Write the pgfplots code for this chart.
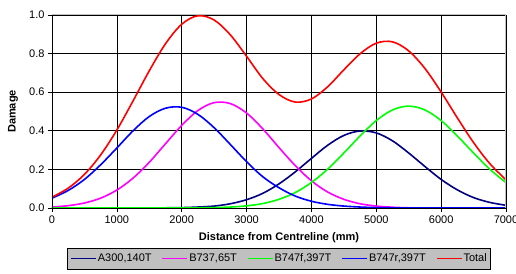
\documentclass[border=0pt]{standalone}
\usepackage{fontspec}
\setmainfont{Liberation Sans}
\usepackage{pgfplots}
\usepackage{pgfplotstable}
\pgfplotsset{compat=1.18}
\definecolor{cNavy}{RGB}{0,0,128}
\definecolor{cMag}{RGB}{255,0,255}
\definecolor{cGreen}{RGB}{0,255,0}
\definecolor{cBlue}{RGB}{0,0,255}
\definecolor{cRed}{RGB}{255,0,0}
\definecolor{cSilver}{RGB}{192,192,192}

\pgfplotstableread{
x    A300  B737  B747f B747r Total
0    0.000 0.005 0.000 0.051 0.056
250  0.000 0.012 0.000 0.091 0.103
500  0.000 0.026 0.000 0.148 0.174
750  0.000 0.051 0.000 0.224 0.275
1000 0.000 0.093 0.000 0.311 0.404
1250 0.000 0.155 0.000 0.400 0.555
1500 0.000 0.237 0.000 0.474 0.711
1750 0.001 0.333 0.000 0.517 0.851
2000 0.002 0.428 0.000 0.522 0.952
2250 0.005 0.505 0.001 0.485 0.996
2500 0.010 0.546 0.002 0.416 0.974
2750 0.022 0.541 0.005 0.329 0.897
3000 0.043 0.492 0.011 0.240 0.786
3250 0.076 0.410 0.023 0.162 0.671
3500 0.125 0.313 0.045 0.105 0.588
3750 0.187 0.220 0.080 0.062 0.549
4000 0.257 0.141 0.132 0.035 0.565
4250 0.325 0.083 0.201 0.019 0.628
4500 0.376 0.045 0.285 0.010 0.716
4750 0.399 0.022 0.373 0.005 0.799
5000 0.389 0.010 0.453 0.002 0.854
5250 0.348 0.004 0.508 0.001 0.861
5500 0.285 0.001 0.528 0.000 0.814
5750 0.215 0.000 0.508 0.000 0.723
6000 0.148 0.000 0.453 0.000 0.601
6250 0.094 0.000 0.373 0.000 0.467
6500 0.054 0.000 0.285 0.000 0.339
6750 0.029 0.000 0.201 0.000 0.230
7000 0.014 0.000 0.132 0.000 0.146
}\data

\begin{document}
\begin{tikzpicture}[font=\fontsize{11}{13}\selectfont]
\useasboundingbox (-52pt,-65pt) rectangle (464pt,208pt);
\begin{axis}[
  at={(0pt,0pt)}, anchor=south west,
  width=454pt, height=193pt, scale only axis,
  xmin=0, xmax=7000, ymin=0, ymax=1,
  xtick={0,1000,...,7000},
  ytick={0,0.2,0.4,0.6,0.8,1.0},
  xtick pos=bottom, ytick pos=left,
  tick align=outside, major tick length=4pt,
  tick style={black, line width=0.6pt},
  grid=major,
  major grid style={black, line width=0.6pt},
  axis line style={draw=none},
  /pgf/number format/assume math mode=true,
  xticklabel style={/pgf/number format/1000 sep={}},
  yticklabel style={/pgf/number format/.cd, fixed, fixed zerofill, precision=1},
  xlabel={\bfseries Distance from Centreline (mm)},
  ylabel={\bfseries Damage},
  xlabel style={at={(axis description cs:0.5,-0.155)}, anchor=center},
  ylabel style={at={(axis description cs:-0.086,0.5)}, anchor=center},
  legend columns=5,
  legend image code/.code={\draw[#1] (0pt,0pt) -- (25pt,0pt);},
  legend style={at={(0.5,-0.205)}, anchor=north, draw=black, fill=cSilver,
    line width=0.6pt, inner xsep=3pt, inner ysep=5pt,
    nodes={inner sep=1pt, font=\fontsize{11}{13}\selectfont},
    /tikz/every even column/.append style={column sep=9pt}},
  every axis plot/.append style={line width=1.6pt, smooth, tension=0.55},
]
\addplot[cNavy]  table[x=x, y=A300]  {\data};
\addlegendentry{A300,140T}
\addplot[cMag]   table[x=x, y=B737]  {\data};
\addlegendentry{B737,65T}
\addplot[cGreen] table[x=x, y=B747f] {\data};
\addlegendentry{B747f,397T}
\addplot[cBlue]  table[x=x, y=B747r] {\data};
\addlegendentry{B747r,397T}
\addplot[cRed]   table[x=x, y=Total] {\data};
\addlegendentry{Total}
\draw[cSilver, line width=1pt] (rel axis cs:0,1) -- (rel axis cs:1,1) -- (rel axis cs:1,0);
\draw[black, line width=0.7pt] (rel axis cs:0,1) -- (rel axis cs:0,0) -- (rel axis cs:1,0);
\end{axis}
\end{tikzpicture}
\end{document}
